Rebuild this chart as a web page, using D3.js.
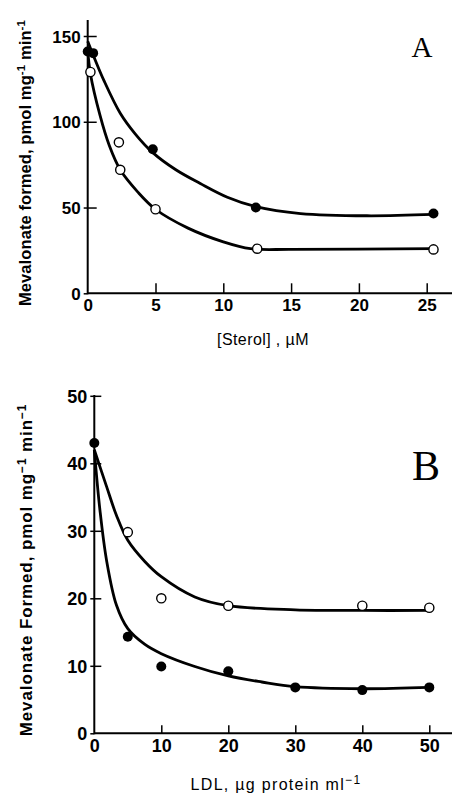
<!DOCTYPE html>
<html>
<head>
<meta charset="utf-8">
<script src="https://cdn.jsdelivr.net/npm/d3@7"></script>
<style>
  body { margin: 0; background: #fff; }
  svg { display: block; }
</style>
</head>
<body>
<div id="app"></div>
<script>
// Panel A: sterol
const sterolFilled = [[0, 141], [0.4, 140], [4.8, 84], [12.4, 50], [25.5, 46.5]];
const sterolOpen = [[0.2, 129], [2.3, 88], [2.4, 72], [5, 49], [12.5, 26], [25.5, 25.6]];
const sterolFilledCurve = [[0, 147], [0.4, 139], [1.2, 124], [2.4, 105], [3.5, 93], [4.8, 82], [6.5, 72], [8.3, 64], [10.3, 56], [12.4, 50.5], [15.7, 46.5], [20.6, 45.2], [25.5, 46]];
const sterolOpenCurve = [[0, 142], [0.2, 128], [0.9, 104], [1.6, 86], [2.4, 72], [3.7, 59], [5, 49], [7.4, 38], [10, 30], [12, 26], [15, 25.6], [25.5, 26]];
const sterolTicksX = [0, 5, 10, 15, 20, 25];
const sterolTicksY = [0, 50, 100, 150];

// Panel B: LDL
const ldlFilled = [[0, 43], [5, 14.3], [10, 9.9], [20, 9.2], [30, 6.8], [40, 6.4], [50, 6.8]];
const ldlOpen = [[5, 29.8], [10, 20], [20, 18.9], [40, 18.9], [50, 18.6]];
const ldlFilledCurve = [[0, 42], [0.85, 33], [1.85, 25.5], [3.3, 19], [5, 15.5], [7.5, 13.2], [10, 11.8], [15, 9.9], [20, 8.5], [25, 7.6], [30, 6.9], [40, 6.6], [50, 6.8]];
const ldlOpenCurve = [[0, 42], [1.85, 36.5], [3.3, 32.3], [5, 28.6], [7.5, 25.5], [10, 23.2], [15, 20.2], [20, 18.9], [30, 18.3], [40, 18.2], [50, 18.2]];
const ldlTicksX = [0, 10, 20, 30, 40, 50];
const ldlTicksY = [0, 10, 20, 30, 40, 50];

const width = 453, height = 795;

const svg = d3.select("#app").append("svg")
    .attr("width", width)
    .attr("height", height);

function panel(o) {
  const g = svg.append("g");
  const x = d3.scaleLinear().domain(o.xDomain).range(o.xRange);
  const y = d3.scaleLinear().domain(o.yDomain).range(o.yRange);

  // axis lines
  g.append("line")
      .attr("x1", x(0)).attr("x2", width - 1)
      .attr("y1", y(0)).attr("y2", y(0))
      .attr("stroke", "#000").attr("stroke-width", 2);
  g.append("line")
      .attr("x1", x(0)).attr("x2", x(0))
      .attr("y1", y(0) + 1).attr("y2", o.axisTop)
      .attr("stroke", "#000").attr("stroke-width", 2);

  const xAxis = g.append("g")
      .attr("transform", `translate(0,${y(0)})`)
      .call(d3.axisBottom(x).tickValues(o.ticksX).tickSize(-o.xTick).tickPadding(6).tickFormat(d3.format("d")));
  const yAxis = g.append("g")
      .attr("transform", `translate(${x(0)},0)`)
      .call(d3.axisLeft(y).tickValues(o.ticksY).tickSize(-o.yTick).tickPadding(7).tickFormat(d3.format("d")));

  [xAxis, yAxis].forEach(a => {
    a.select(".domain").remove();
    a.selectAll("line").attr("stroke", "#000").attr("stroke-width", 1.5);
    a.selectAll("text")
        .attr("fill", "#000")
        .style("font-family", "'Liberation Sans', Arial, sans-serif")
        .style("font-weight", "bold")
        .style("font-size", o.tickFont + "px");
  });
  xAxis.selectAll(".tick").filter(d => d === 0).select("line").remove();
  yAxis.selectAll(".tick").filter(d => d === 0).select("line").remove();
  yAxis.selectAll(".tick").append("line")
      .attr("x1", 0).attr("x2", -4)
      .attr("stroke", "#000").attr("stroke-width", 1.5);
  yAxis.selectAll(".tick text").attr("dy", "0.36em");

  const line = d3.line()
      .x(d => x(d[0]))
      .y(d => y(d[1]))
      .curve(d3.curveCatmullRom.alpha(0.5));

  [o.curveA, o.curveB].forEach(c => {
    g.append("path")
        .datum(c)
        .attr("d", line)
        .attr("fill", "none")
        .attr("stroke", "#000")
        .attr("stroke-width", 2.8);
  });

  g.selectAll(".filled")
      .data(o.filled)
    .enter().append("circle")
      .attr("cx", d => x(d[0]))
      .attr("cy", d => y(d[1]))
      .attr("r", 5)
      .attr("fill", "#000");

  g.selectAll(".open")
      .data(o.open)
    .enter().append("circle")
      .attr("cx", d => x(d[0]))
      .attr("cy", d => y(d[1]))
      .attr("r", 4.6)
      .attr("fill", "#fff")
      .attr("stroke", "#000")
      .attr("stroke-width", 1.4);

  // panel letter
  g.append("text")
      .attr("x", o.letterX).attr("y", o.letterY)
      .attr("text-anchor", "middle")
      .style("font-family", "'Liberation Serif', 'Times New Roman', serif")
      .style("font-size", o.letterSize + "px")
      .text(o.letter);

  // y title
  const yt = g.append("text")
      .attr("transform", `translate(${o.yTitleX},${o.yTitleY}) rotate(-90)`)
      .attr("text-anchor", "middle")
      .style("font-family", "'Liberation Sans', Arial, sans-serif")
      .style("font-size", o.titleFont + "px")
      .style("letter-spacing", o.titleSpacing + "px")
      .style("font-weight", "bold");
  yt.append("tspan").text(o.yTitle[0]);
  yt.append("tspan").attr("dy", -6).style("font-size", (o.titleFont * 0.7) + "px").text(o.sup);
  yt.append("tspan").attr("dy", 6).text(o.yTitle[1]);
  yt.append("tspan").attr("dy", -6).style("font-size", (o.titleFont * 0.7) + "px").text(o.sup);

  return { g, x, y };
}

panel({
  xDomain: [0, 25], xRange: [87.7, 426.7],
  yDomain: [0, 150], yRange: [293.3, 36],
  axisTop: 20, ticksX: sterolTicksX, ticksY: sterolTicksY,
  xTick: 10, yTick: 9, tickFont: 17,
  curveA: sterolFilledCurve, curveB: sterolOpenCurve,
  filled: sterolFilled, open: sterolOpen,
  letter: "A", letterX: 422, letterY: 57, letterSize: 29,
  yTitleX: 31, yTitleY: 163, titleFont: 16.5, titleSpacing: 0.1,
  yTitle: ["Mevalonate formed, pmol mg", " min"], sup: "-1"
});

panel({
  xDomain: [0, 50], xRange: [94.3, 429.3],
  yDomain: [0, 50], yRange: [733.3, 395.8],
  axisTop: 395, ticksX: ldlTicksX, ticksY: ldlTicksY,
  xTick: 8, yTick: 7, tickFont: 18,
  curveA: ldlFilledCurve, curveB: ldlOpenCurve,
  filled: ldlFilled, open: ldlOpen,
  letter: "B", letterX: 426, letterY: 480, letterSize: 42,
  yTitleX: 32, yTitleY: 570, titleFont: 17, titleSpacing: 0.9,
  yTitle: ["Mevalonate Formed, pmol mg", " min"], sup: "\u22121"
});

// x titles
svg.append("text")
    .attr("x", 263).attr("y", 345)
    .attr("text-anchor", "middle")
    .style("font-family", "'Liberation Sans', Arial, sans-serif")
    .style("font-size", "16px")
    .style("letter-spacing", "0.4px")
    .text("[Sterol] , \u00b5M");

const xtB = svg.append("text")
    .attr("x", 276).attr("y", 790)
    .attr("text-anchor", "middle")
    .style("font-family", "'Liberation Sans', Arial, sans-serif")
    .style("font-size", "16px")
    .style("letter-spacing", "1.3px");
xtB.append("tspan").text("LDL, \u00b5g protein ml");
xtB.append("tspan").attr("dy", -6).style("font-size", "12px").text("\u22121");
</script>
</body>
</html>
